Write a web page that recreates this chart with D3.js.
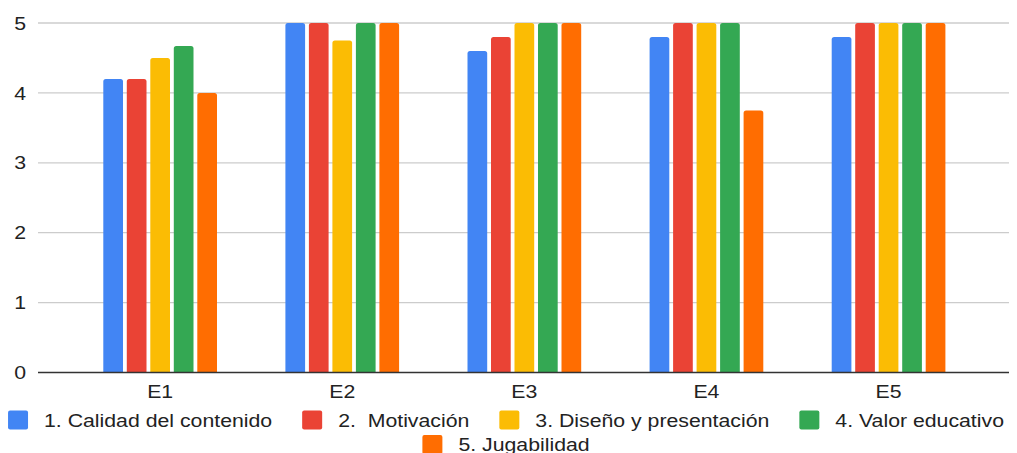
<!DOCTYPE html>
<html>
<head>
<meta charset="utf-8">
<script src="https://cdn.jsdelivr.net/npm/d3@7/dist/d3.min.js"></script>
<style>
  html, body { margin: 0; padding: 0; background: #fff; }
  svg text { font-family: "Liberation Sans", Arial, sans-serif; fill: #222; }
</style>
</head>
<body>
<svg id="chart" width="1017" height="453"></svg>
<script>
// Evaluation groups
const categories = ["E1", "E2", "E3", "E4", "E5"];
// Criteria (series)
const seriesNames = [
  "1. Calidad del contenido",
  "2.  Motivación",
  "3. Diseño y presentación",
  "4. Valor educativo",
  "5. Jugabilidad"
];
const seriesColors = ["#4285F4", "#EA4335", "#FBBC04", "#34A853", "#FF6D01"];
// Scores per criterion, one value per group E1..E5
const calidad    = [4.2, 5, 4.6, 4.8, 4.8];
const motivacion = [4.2, 5, 4.8, 5, 5];
const diseno     = [4.5, 4.75, 5, 5, 5];
const valor      = [4.67, 5, 5, 5, 5];
const jugabilidad = [4.0, 5, 5, 3.75, 5];
const yTicks = [0, 1, 2, 3, 4, 5];

const seriesValues = [calidad, motivacion, diseno, valor, jugabilidad];

const svg = d3.select("#chart");

// Text is drawn slightly wide
const fontSize = 18.5, stretch = 1.15;
function placeText(sel, px, py) {
  return sel.attr("transform", (d, i) =>
    `translate(${typeof px === "function" ? px(d, i) : px},${typeof py === "function" ? py(d, i) : py}) scale(${stretch},1)`)
    .style("font-size", fontSize + "px");
}

const gridLeft = 38, gridRight = 1009;
const y = d3.scaleLinear().domain([0, 5]).range([372.5, 23]);
const x = d3.scaleBand().domain(categories).range([69.1, 979.6]).padding(0);
const groupWidth = 113.7;
const xs = d3.scaleBand().domain(d3.range(seriesNames.length))
  .range([0, groupWidth]).paddingInner(0.1617).paddingOuter(0);

// Horizontal gridlines
svg.append("g").selectAll("line")
  .data(yTicks.filter(t => t !== 0))
  .join("line")
  .attr("x1", gridLeft).attr("x2", gridRight)
  .attr("y1", d => y(d)).attr("y2", d => y(d))
  .attr("stroke", "#cccccc").attr("stroke-width", 1.3);

// Y tick labels
placeText(svg.append("g").selectAll("text")
  .data(yTicks)
  .join("text"), 26, d => y(d))
  .attr("dy", "0.36em")
  .attr("text-anchor", "end")
  .text(d => d);

// Bars with rounded top corners
function barPath(x0, w, yTop, yBase, r) {
  r = Math.min(r, w / 2, Math.max(0, yBase - yTop));
  return `M${x0},${yBase}V${yTop + r}Q${x0},${yTop} ${x0 + r},${yTop}` +
         `H${x0 + w - r}Q${x0 + w},${yTop} ${x0 + w},${yTop + r}V${yBase}Z`;
}

const barData = [];
categories.forEach((c, ci) => {
  seriesValues.forEach((vals, si) => {
    barData.push({ cat: c, si, value: vals[ci] });
  });
});

svg.append("g").selectAll("path")
  .data(barData)
  .join("path")
  .attr("d", d => {
    const x0 = x(d.cat) + (x.bandwidth() - groupWidth) / 2 + xs(d.si);
    return barPath(x0, xs.bandwidth(), y(d.value), y(0), 2.5);
  })
  .attr("fill", d => seriesColors[d.si]);

// Baseline
svg.append("line")
  .attr("x1", gridLeft).attr("x2", gridRight)
  .attr("y1", y(0)).attr("y2", y(0))
  .attr("stroke", "#333").attr("stroke-width", 1.5);

// Category labels
placeText(svg.append("g").selectAll("text")
  .data(categories)
  .join("text"), d => x(d) + x.bandwidth() / 2, 398)
  .attr("text-anchor", "middle")
  .text(d => d);

// Legend, wrapped into centered rows
const legendG = svg.append("g");
const sw = 20, sh = 19, gapText = 16, gapItem = 30, maxRow = 1005;
const items = seriesNames.map((name, i) => {
  const g = legendG.append("g");
  g.append("rect").attr("width", sw).attr("height", sh).attr("rx", 2)
    .attr("fill", seriesColors[i]);
  const t = placeText(g.append("text"), sw + gapText, sh / 2)
    .attr("dy", "0.36em")
    .style("white-space", "pre")
    .text(name);
  return { g, w: sw + gapText + t.node().getComputedTextLength() * stretch };
});
const rows = [[]];
let rowW = 0;
items.forEach(it => {
  const add = (rows[rows.length - 1].length ? gapItem : 0) + it.w;
  if (rowW + add > maxRow && rows[rows.length - 1].length) {
    rows.push([it]); rowW = it.w;
  } else {
    rows[rows.length - 1].push(it); rowW += add;
  }
});
const centerX = 506, rowTop = [410.5, 435];
rows.forEach((row, ri) => {
  const total = d3.sum(row, d => d.w) + gapItem * (row.length - 1);
  let cx = centerX - total / 2;
  row.forEach(it => {
    it.g.attr("transform", `translate(${cx},${rowTop[ri]})`);
    cx += it.w + gapItem;
  });
});
</script>
</body>
</html>
